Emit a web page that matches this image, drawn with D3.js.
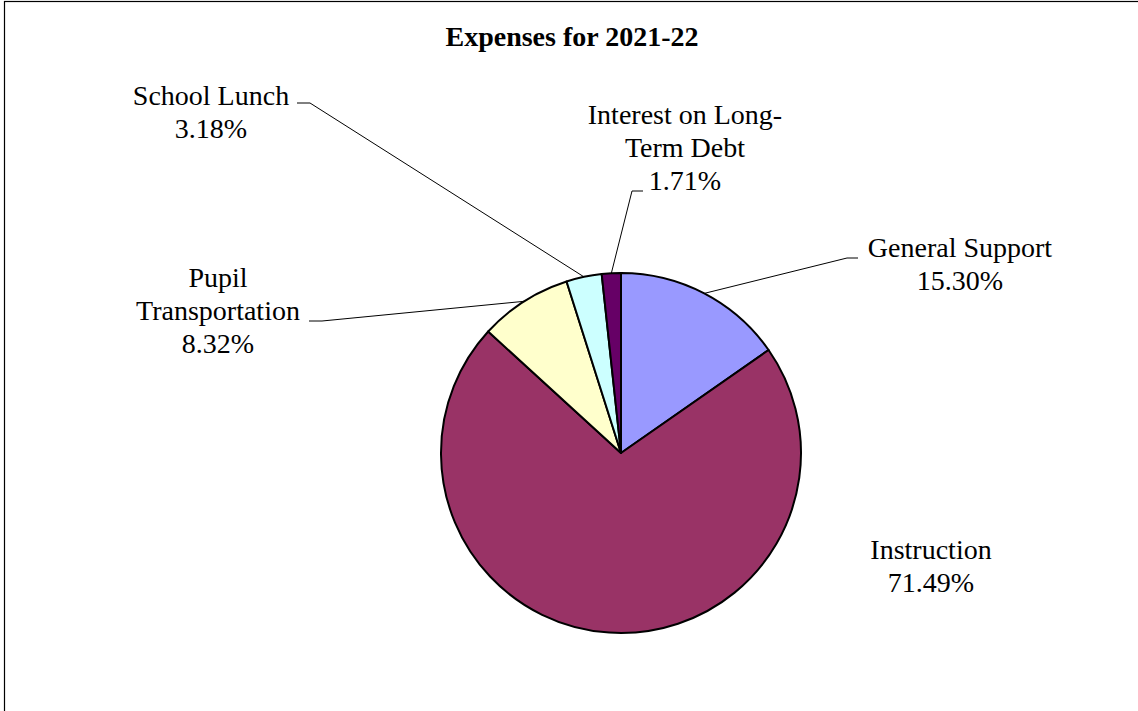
<!DOCTYPE html>
<html>
<head>
<meta charset="utf-8">
<script src="https://cdn.jsdelivr.net/npm/d3@7"></script>
<style>
  html, body { margin: 0; padding: 0; background: #fff; }
  svg { display: block; }
  text { font-family: "Liberation Serif", "Times New Roman", serif; fill: #000; }
</style>
</head>
<body>
<svg id="chart" width="1138" height="711"></svg>
<script>
// ---- data ----
const title = "Expenses for 2021-22";
const categories = ["General Support", "Instruction", "Pupil Transportation", "School Lunch", "Interest on Long-Term Debt"];
const values = [15.30, 71.49, 8.32, 3.18, 1.71];
const labelText = [["General Support"], ["Instruction"], ["Pupil", "Transportation"], ["School Lunch"], ["Interest on Long-", "Term Debt"]];
const percentLabels = ["15.30%", "71.49%", "8.32%", "3.18%", "1.71%"];
const colors = ["#9999FF", "#993366", "#FFFFCC", "#CCFFFF", "#660066"];

// ---- layout (positions of labels, leader elbows) ----
const cx = 621, cy = 453, R = 180;
const labelLayout = [
  { x: 960, y: 257, leader: [[847, 258], [858, 258]] },
  { x: 931, y: 559, leader: null },
  { x: 218, y: 287, leader: [[322, 321], [309, 321]] },
  { x: 211, y: 105, leader: [[310, 103], [297, 103]] },
  { x: 685, y: 124, leader: [[632, 191], [643, 191]] }
];
const lineH = 33;

const svg = d3.select("#chart");

// frame
svg.append("rect")
  .attr("x", 4.5).attr("y", 1.5)
  .attr("width", 1400).attr("height", 900)
  .attr("fill", "none").attr("stroke", "#000").attr("stroke-width", 1.2);

// title
svg.append("text")
  .attr("x", 572).attr("y", 46)
  .attr("text-anchor", "middle")
  .attr("font-weight", "bold")
  .attr("font-size", 28)
  .text(title);

const data = categories.map((c, i) => ({ name: c, value: values[i], i }));
const pie = d3.pie().sort(null).value(d => d.value).startAngle(0).endAngle(2 * Math.PI);
const arcs = pie(data);
const arc = d3.arc().innerRadius(0).outerRadius(R);

const g = svg.append("g").attr("transform", `translate(${cx},${cy})`);
g.selectAll("path.slice")
  .data(arcs)
  .join("path")
  .attr("class", "slice")
  .attr("d", arc)
  .attr("fill", d => colors[d.data.i])
  .attr("stroke", "#000")
  .attr("stroke-width", 2)
  .attr("stroke-linejoin", "round");

// leader lines
arcs.forEach(d => {
  const L = labelLayout[d.data.i];
  if (!L.leader) return;
  const mid = (d.startAngle + d.endAngle) / 2;
  const sx = cx + R * Math.sin(mid), sy = cy - R * Math.cos(mid);
  const pts = [[sx, sy]].concat(L.leader);
  svg.append("path")
    .attr("d", d3.line()(pts))
    .attr("fill", "none")
    .attr("stroke", "#000")
    .attr("stroke-width", 1);
});

// labels
arcs.forEach(d => {
  const i = d.data.i;
  const L = labelLayout[i];
  const lines = labelText[i].concat([percentLabels[i]]);
  const t = svg.append("text")
    .attr("text-anchor", "middle")
    .attr("font-size", 28);
  lines.forEach((s, k) => {
    t.append("tspan").attr("x", L.x).attr("y", L.y + k * lineH).text(s);
  });
});
</script>
</body>
</html>
